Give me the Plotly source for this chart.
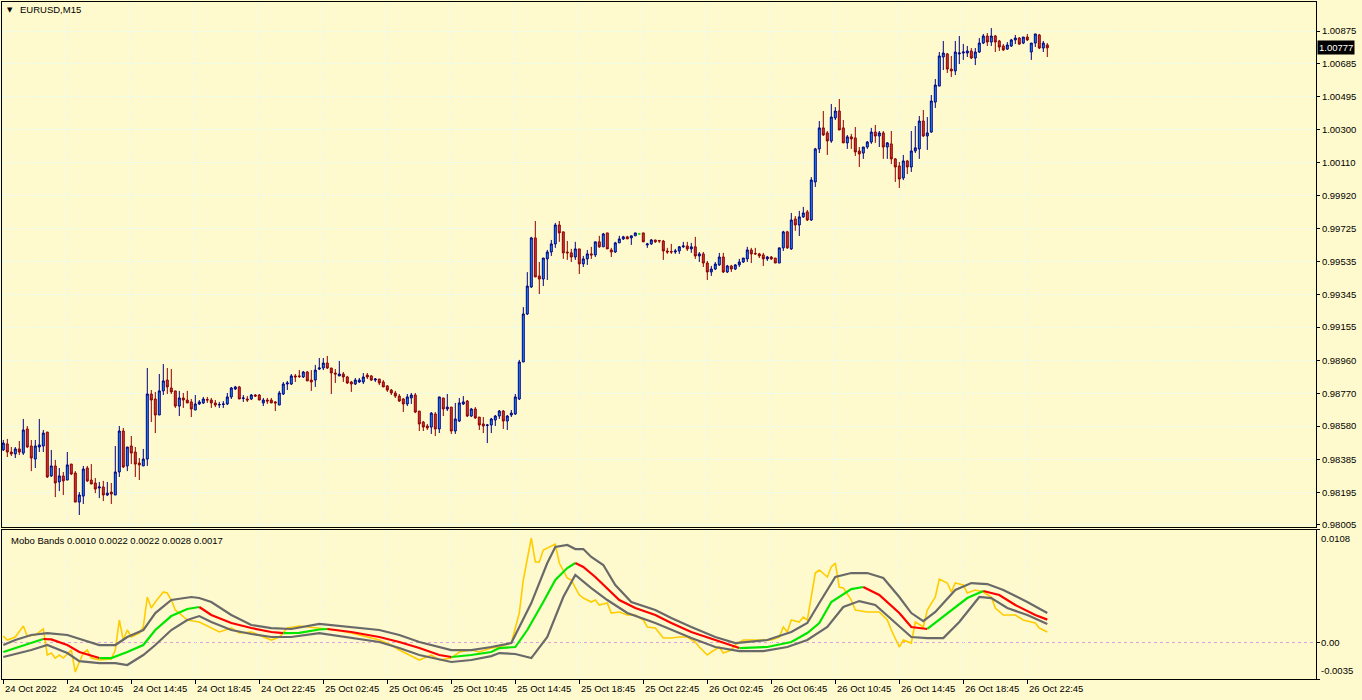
import plotly.graph_objects as go

# ---------------- data ----------------
bars = list(range(262))

opens = [
0.98441,0.98476,0.98429,0.98418,0.98447,0.98423,0.98563,0.98464,0.98388,0.98458,
0.98464,0.98545,0.98290,0.98348,0.98255,0.98290,0.98266,0.98359,0.98307,0.98138,
0.98173,0.98336,0.98266,0.98249,0.98220,0.98226,0.98179,0.98196,0.98179,0.98313,
0.98551,0.98348,0.98464,0.98429,0.98365,0.98348,0.98388,0.98766,0.98737,0.98644,
0.98784,0.98847,0.98801,0.98784,0.98696,0.98743,0.98731,0.98720,0.98673,0.98708,
0.98714,0.98734,0.98731,0.98714,0.98702,0.98705,0.98708,0.98749,0.98795,0.98807,
0.98740,0.98737,0.98737,0.98760,0.98760,0.98714,0.98731,0.98731,0.98720,0.98702,
0.98766,0.98824,0.98824,0.98871,0.98871,0.98865,0.98894,0.98847,0.98847,0.98911,
0.98917,0.98946,0.98917,0.98888,0.98871,0.98882,0.98865,0.98836,0.98824,0.98836,
0.98836,0.98876,0.98871,0.98847,0.98853,0.98836,0.98813,0.98789,0.98772,0.98754,
0.98737,0.98708,0.98743,0.98760,0.98667,0.98603,0.98580,0.98574,0.98650,0.98563,
0.98743,0.98679,0.98690,0.98551,0.98609,0.98708,0.98725,0.98638,0.98679,0.98632,
0.98592,0.98583,0.98586,0.98615,0.98638,0.98667,0.98609,0.98644,0.98650,0.98737,
0.98952,0.99231,0.99388,0.99673,0.99452,0.99434,0.99551,0.99591,0.99638,0.99748,
0.99708,0.99591,0.99586,0.99562,0.99609,0.99522,0.99551,0.99580,0.99574,0.99650,
0.99621,0.99702,0.99603,0.99591,0.99644,0.99667,0.99679,0.99673,0.99685,0.99696,
0.99702,0.99632,0.99638,0.99661,0.99658,0.99655,0.99597,0.99594,0.99591,0.99597,
0.99621,0.99626,0.99609,0.99621,0.99568,0.99580,0.99527,0.99475,0.99492,0.99516,
0.99562,0.99475,0.99510,0.99492,0.99516,0.99533,0.99551,0.99603,0.99583,0.99580,
0.99574,0.99551,0.99562,0.99556,0.99527,0.99615,0.99708,0.99609,0.99783,0.99748,
0.99795,0.99824,0.99777,0.99998,1.00190,1.00312,1.00283,1.00236,1.00370,1.00410,
1.00312,1.00225,1.00260,1.00254,1.00178,1.00166,1.00201,1.00230,1.00288,1.00265,
1.00283,1.00201,1.00219,1.00132,1.00091,1.00021,1.00120,1.00085,1.00178,1.00190,
1.00352,1.00265,1.00288,1.00462,1.00555,1.00724,1.00742,1.00654,1.00643,1.00742,
1.00747,1.00747,1.00759,1.00718,1.00753,1.00805,1.00846,1.00811,1.00846,1.00817,
1.00788,1.00770,1.00788,1.00823,1.00834,1.00805,1.00840,1.00753,1.00805,1.00852,
1.00776,1.00794]

highs = [
0.98499,0.98505,0.98458,0.98458,0.98493,0.98621,0.98580,0.98499,0.98499,0.98621,
0.98557,0.98545,0.98441,0.98383,0.98336,0.98313,0.98429,0.98359,0.98318,0.98196,
0.98348,0.98348,0.98359,0.98278,0.98255,0.98261,0.98255,0.98249,0.98464,0.98580,
0.98569,0.98458,0.98522,0.98458,0.98394,0.98447,0.98917,0.98789,0.98778,0.98882,
0.98940,0.98917,0.98911,0.98784,0.98784,0.98772,0.98784,0.98737,0.98760,0.98731,
0.98749,0.98749,0.98743,0.98731,0.98720,0.98725,0.98772,0.98807,0.98813,0.98813,
0.98760,0.98754,0.98766,0.98766,0.98766,0.98743,0.98743,0.98743,0.98725,0.98784,
0.98836,0.98842,0.98882,0.98882,0.98905,0.98900,0.98900,0.98905,0.98935,0.98975,
0.98975,0.98987,0.98917,0.98911,0.98958,0.98894,0.98871,0.98842,0.98859,0.98859,
0.98888,0.98888,0.98876,0.98859,0.98853,0.98847,0.98818,0.98795,0.98784,0.98766,
0.98743,0.98766,0.98772,0.98772,0.98667,0.98609,0.98592,0.98661,0.98661,0.98749,
0.98743,0.98766,0.98690,0.98714,0.98743,0.98754,0.98731,0.98685,0.98690,0.98632,
0.98632,0.98592,0.98627,0.98644,0.98673,0.98673,0.98644,0.98673,0.98766,0.98964,
0.99271,0.99474,0.99679,0.99771,0.99533,0.99556,0.99603,0.99661,0.99760,0.99771,
0.99708,0.99655,0.99609,0.99650,0.99609,0.99568,0.99603,0.99621,0.99650,0.99685,
0.99702,0.99702,0.99615,0.99650,0.99685,0.99685,0.99685,0.99685,0.99702,0.99702,
0.99702,0.99644,0.99667,0.99661,0.99661,0.99661,0.99615,0.99638,0.99609,0.99626,
0.99650,0.99650,0.99644,0.99679,0.99591,0.99591,0.99539,0.99510,0.99533,0.99586,
0.99586,0.99516,0.99516,0.99521,0.99551,0.99556,0.99621,0.99615,0.99615,0.99586,
0.99586,0.99568,0.99568,0.99556,0.99615,0.99714,0.99714,0.99818,0.99800,0.99830,
0.99853,0.99835,1.00026,1.00196,1.00352,1.00410,1.00294,1.00451,1.00433,1.00480,
1.00358,1.00271,1.00277,1.00317,1.00201,1.00201,1.00236,1.00312,1.00329,1.00294,
1.00294,1.00230,1.00294,1.00137,1.00114,1.00155,1.00126,1.00294,1.00323,1.00381,
1.00416,1.00375,1.00503,1.00596,1.00753,1.00817,1.00747,1.00730,1.00817,1.00846,
1.00800,1.00788,1.00776,1.00776,1.00834,1.00858,1.00863,1.00892,1.00852,1.00823,
1.00799,1.00811,1.00829,1.00852,1.00840,1.00840,1.00858,1.00805,1.00858,1.00858,
1.00817,1.00805]

lows = [
0.98435,0.98400,0.98406,0.98394,0.98412,0.98412,0.98453,0.98318,0.98336,0.98429,
0.98429,0.98278,0.98284,0.98167,0.98202,0.98179,0.98266,0.98295,0.98138,0.98063,
0.98127,0.98255,0.98243,0.98190,0.98161,0.98144,0.98173,0.98127,0.98179,0.98284,
0.98336,0.98318,0.98359,0.98284,0.98266,0.98348,0.98348,0.98603,0.98539,0.98644,
0.98760,0.98766,0.98766,0.98685,0.98638,0.98685,0.98714,0.98632,0.98673,0.98702,
0.98708,0.98714,0.98685,0.98690,0.98685,0.98685,0.98702,0.98737,0.98789,0.98737,
0.98720,0.98720,0.98731,0.98749,0.98731,0.98696,0.98708,0.98714,0.98667,0.98702,
0.98760,0.98789,0.98818,0.98836,0.98859,0.98859,0.98842,0.98784,0.98807,0.98905,
0.98905,0.98911,0.98766,0.98830,0.98871,0.98836,0.98824,0.98778,0.98818,0.98830,
0.98824,0.98853,0.98842,0.98836,0.98818,0.98807,0.98778,0.98760,0.98743,0.98720,
0.98661,0.98696,0.98708,0.98655,0.98551,0.98551,0.98557,0.98534,0.98522,0.98539,
0.98638,0.98667,0.98534,0.98534,0.98603,0.98702,0.98632,0.98632,0.98621,0.98557,
0.98539,0.98481,0.98539,0.98580,0.98621,0.98563,0.98557,0.98632,0.98644,0.98731,
0.98952,0.99225,0.99382,0.99446,0.99347,0.99393,0.99428,0.99568,0.99615,0.99650,
0.99551,0.99545,0.99533,0.99545,0.99463,0.99504,0.99516,0.99551,0.99562,0.99615,
0.99621,0.99609,0.99562,0.99586,0.99644,0.99661,0.99667,0.99632,0.99685,0.99690,
0.99650,0.99615,0.99632,0.99644,0.99644,0.99545,0.99580,0.99580,0.99580,0.99580,
0.99615,0.99597,0.99586,0.99551,0.99533,0.99504,0.99428,0.99452,0.99486,0.99510,
0.99469,0.99469,0.99475,0.99486,0.99504,0.99527,0.99533,0.99527,0.99574,0.99556,
0.99510,0.99539,0.99545,0.99527,0.99527,0.99597,0.99609,0.99603,0.99714,0.99684,
0.99789,0.99771,0.99771,0.99969,1.00166,1.00265,1.00155,1.00225,1.00358,1.00300,
1.00225,1.00190,1.00190,1.00149,1.00085,1.00132,1.00190,1.00219,1.00225,1.00201,
1.00132,1.00132,1.00102,0.99998,0.99963,1.00009,1.00044,1.00056,1.00166,1.00132,
1.00259,1.00184,1.00283,1.00428,1.00555,1.00648,1.00631,1.00608,1.00619,1.00683,
1.00707,1.00724,1.00712,1.00677,1.00747,1.00799,1.00788,1.00788,1.00753,1.00759,
1.00759,1.00765,1.00782,1.00799,1.00794,1.00799,1.00817,1.00707,1.00782,1.00770,
1.00753,1.00724]

closes = [
0.98481,0.98429,0.98418,0.98447,0.98429,0.98557,0.98458,0.98394,0.98464,0.98470,
0.98539,0.98284,0.98348,0.98249,0.98290,0.98261,0.98354,0.98301,0.98138,0.98179,
0.98330,0.98261,0.98243,0.98214,0.98226,0.98179,0.98190,0.98185,0.98313,0.98551,
0.98342,0.98458,0.98423,0.98359,0.98354,0.98388,0.98766,0.98731,0.98644,0.98784,
0.98842,0.98807,0.98778,0.98696,0.98743,0.98731,0.98714,0.98679,0.98708,0.98720,
0.98737,0.98731,0.98714,0.98702,0.98705,0.98708,0.98749,0.98801,0.98807,0.98737,
0.98743,0.98731,0.98760,0.98754,0.98731,0.98731,0.98725,0.98714,0.98714,0.98772,
0.98824,0.98830,0.98871,0.98865,0.98868,0.98894,0.98842,0.98836,0.98905,0.98917,
0.98946,0.98917,0.98888,0.98882,0.98882,0.98865,0.98830,0.98824,0.98847,0.98847,
0.98865,0.98865,0.98847,0.98853,0.98830,0.98807,0.98789,0.98772,0.98754,0.98725,
0.98708,0.98749,0.98760,0.98661,0.98592,0.98574,0.98569,0.98655,0.98563,0.98749,
0.98679,0.98690,0.98551,0.98621,0.98714,0.98720,0.98638,0.98679,0.98627,0.98586,
0.98580,0.98586,0.98621,0.98638,0.98667,0.98609,0.98638,0.98655,0.98749,0.98952,
0.99231,0.99393,0.99673,0.99446,0.99434,0.99556,0.99591,0.99638,0.99748,0.99702,
0.99586,0.99586,0.99562,0.99609,0.99522,0.99551,0.99580,0.99574,0.99650,0.99621,
0.99696,0.99609,0.99591,0.99644,0.99667,0.99679,0.99667,0.99685,0.99702,0.99696,
0.99650,0.99638,0.99661,0.99650,0.99655,0.99597,0.99591,0.99591,0.99597,0.99621,
0.99626,0.99609,0.99621,0.99568,0.99580,0.99527,0.99475,0.99492,0.99521,0.99562,
0.99475,0.99510,0.99492,0.99516,0.99533,0.99556,0.99603,0.99580,0.99580,0.99568,
0.99551,0.99562,0.99551,0.99527,0.99615,0.99708,0.99615,0.99777,0.99748,0.99795,
0.99818,0.99777,1.00009,1.00190,1.00312,1.00271,1.00236,1.00375,1.00410,1.00300,
1.00225,1.00260,1.00248,1.00172,1.00161,1.00201,1.00230,1.00288,1.00265,1.00283,
1.00201,1.00225,1.00132,1.00085,1.00015,1.00120,1.00085,1.00178,1.00196,1.00352,
1.00265,1.00283,1.00468,1.00561,1.00730,1.00747,1.00654,1.00643,1.00753,1.00747,
1.00753,1.00759,1.00718,1.00753,1.00805,1.00846,1.00811,1.00846,1.00811,1.00782,
1.00765,1.00794,1.00823,1.00834,1.00799,1.00840,1.00823,1.00805,1.00858,1.00776,
1.00805,1.00777]

last_price = 1.00777

# Mobo Bands indicator (sampled bars, values)
yellow_bars = [0,1,3,5,6,8,10,11,12,13,14,15,17,18,19,20,21,22,24,27,28,29,30,31,32,34,35,36,37,38,
               40,41,42,43,44,46,49,52,54,57,59,62,65,67,69,71,74,79,83,87,90,94,97,99,102,104,107,
               109,112,114,117,119,122,124,127,129,130,132,133,134,135,136,138,139,141,142,144,145,
               147,148,149,151,152,154,156,158,160,161,163,165,167,169,171,173,174,176,177,179,180,
               182,183,185,187,190,192,194,195,196,197,199,200,201,203,204,206,207,208,209,210,212,
               213,216,219,221,222,224,225,227,228,230,231,233,234,236,237,238,240,241,243,245,247,
               248,250,253,255,258,259,261]
yellow_vals = [0.00062,0.00024,0.00053,0.00158,0.00062,0.00072,0.00130,-0.00120,-0.00101,-0.00149,
               -0.00120,-0.00149,-0.00072,-0.00283,-0.00187,-0.00101,-0.00072,-0.00149,-0.00168,-0.00158,
               -0.00072,0.00216,0.00024,0.00120,0.00053,0.00091,0.00149,0.00437,0.00331,0.00389,
               0.00485,0.00475,0.00408,0.00312,0.00283,0.00216,0.00197,0.00139,0.00101,0.00139,
               0.00091,0.00101,0.00053,0.00024,0.00053,0.00139,0.00158,0.00139,0.00120,0.00091,
               0.00062,0.00024,-0.00024,-0.00072,-0.00130,-0.00168,-0.00120,-0.00168,-0.00149,-0.00091,
               -0.00072,-0.00091,-0.00053,-0.00043,-0.00005,0.00283,0.00600,0.01003,0.00773,0.00773,
               0.00888,0.00907,0.00945,0.00763,0.00619,0.00600,0.00456,0.00427,0.00389,0.00408,
               0.00360,0.00379,0.00283,0.00293,0.00264,0.00264,0.00216,0.00149,0.00139,0.00043,
               0.00043,0.00053,0.00053,0.00005,-0.00043,-0.00120,-0.00091,-0.00043,-0.00101,-0.00072,
               -0.00024,0.00024,0.00024,0.00024,0.00024,0.00053,0.00149,0.00101,0.00216,0.00197,
               0.00245,0.00216,0.00667,0.00696,0.00629,0.00725,0.00763,0.00533,0.00523,0.00408,
               0.00312,0.00293,0.00293,0.00216,0.00120,-0.00043,0.00024,-0.00005,0.00197,0.00149,
               0.00312,0.00437,0.00609,0.00571,0.00485,0.00571,0.00552,0.00475,0.00504,0.00485,
               0.00437,0.00331,0.00264,0.00264,0.00216,0.00187,0.00139,0.00101]

mid_bars = [0,4,7,10,12,16,19,24,27,31,35,38,42,46,49,52,57,62,67,70,74,79,81,83,87,94,99,104,109,
            112,117,122,124,128,131,135,138,141,143,145,148,151,154,158,163,167,172,178,184,191,197,
            201,204,207,212,215,219,224,227,231,236,241,245,249,253,258,261]
mid_vals = [-0.00091,-0.00043,-0.00005,0.00034,0.00030,-0.00024,-0.00091,-0.00149,-0.00149,-0.00091,
            -0.00024,0.00120,0.00254,0.00322,0.00341,0.00264,0.00187,0.00139,0.00101,0.00091,
            0.00092,0.00125,0.00130,0.00120,0.00101,0.00053,0.00005,-0.00053,-0.00120,-0.00139,
            -0.00120,-0.00091,-0.00053,-0.00043,0.00120,0.00389,0.00600,0.00715,0.00763,0.00725,
            0.00629,0.00523,0.00408,0.00331,0.00264,0.00187,0.00101,0.00024,-0.00053,-0.00043,
            0.00005,0.00091,0.00187,0.00389,0.00513,0.00533,0.00456,0.00283,0.00149,0.00130,
            0.00283,0.00427,0.00494,0.00456,0.00360,0.00264,0.00220]

upper_bars = [0,3,7,11,16,20,24,28,31,35,38,42,47,49,52,57,62,67,72,79,87,94,99,104,112,117,122,127,
              132,136,138,141,143,145,147,150,153,157,163,167,172,178,183,191,197,201,204,208,212,
              216,220,224,227,230,233,238,242,246,250,256,261]
upper_vals = [-0.00024,0.00024,0.00072,0.00091,0.00072,0.00024,-0.00024,-0.00024,0.00053,0.00120,
              0.00283,0.00408,0.00437,0.00427,0.00389,0.00264,0.00168,0.00139,0.00130,0.00178,
              0.00149,0.00120,0.00072,0.00005,-0.00072,-0.00072,-0.00043,-0.00005,0.00379,0.00763,
              0.00917,0.00936,0.00897,0.00897,0.00821,0.00744,0.00552,0.00389,0.00312,0.00235,
              0.00149,0.00053,-0.00005,0.00024,0.00101,0.00187,0.00379,0.00629,0.00667,0.00667,
              0.00619,0.00437,0.00283,0.00206,0.00293,0.00504,0.00571,0.00561,0.00504,0.00389,
              0.00283]

lower_bars = [0,4,7,11,16,19,24,28,31,35,38,42,46,49,52,57,62,67,72,79,87,94,99,104,112,117,122,
              124,128,132,136,140,143,147,151,156,163,167,172,178,184,190,196,201,206,210,214,218,
              223,227,231,235,239,244,247,251,256,261]
lower_vals = [-0.00139,-0.00101,-0.00072,-0.00024,-0.00101,-0.00178,-0.00197,-0.00197,-0.00216,-0.00120,
              -0.00024,0.00120,0.00216,0.00254,0.00197,0.00120,0.00082,0.00053,0.00053,0.00091,
              0.00043,0.00005,-0.00053,-0.00120,-0.00187,-0.00168,-0.00130,-0.00101,-0.00110,-0.00149,
              0.00053,0.00437,0.00648,0.00523,0.00408,0.00283,0.00187,0.00120,0.00043,-0.00043,
              -0.00082,-0.00082,-0.00043,0.00024,0.00149,0.00341,0.00398,0.00360,0.00187,0.00053,
              0.00043,0.00043,0.00197,0.00437,0.00427,0.00331,0.00264,0.00178]

indicator_title = "Mobo Bands 0.0010 0.0022 0.0022 0.0028 0.0017"

tick_bars = [0,16,32,48,64,80,96,112,128,144,160,176,192,208,224,240,256]
tick_labels = ["24 Oct 2022","24 Oct 10:45","24 Oct 14:45","24 Oct 18:45","24 Oct 22:45",
               "25 Oct 02:45","25 Oct 06:45","25 Oct 10:45","25 Oct 14:45","25 Oct 18:45",
               "25 Oct 22:45","26 Oct 02:45","26 Oct 06:45","26 Oct 10:45","26 Oct 14:45",
               "26 Oct 18:45","26 Oct 22:45"]

price_labels = ["1.00875","1.00685","1.00495","1.00300","1.00110","0.99920","0.99725","0.99535",
                "0.99345","0.99155","0.98960","0.98770","0.98580","0.98385","0.98195","0.98005"]
price_vals = [float(s) for s in price_labels]

osc_labels = ["0.0108", "0.00", "-0.0035"]
osc_vals = [0.0108, 0.0, -0.0035]

# ---------------- style ----------------
BG = "#FFFACD"
GRID = "#E6FBF4"
FONT = dict(family="Liberation Sans, Arial, sans-serif", size=9.5, color="black")
X_RANGE = [-0.325, 328.175]
Y_RANGE = [0.979932, 1.010435]
Y2_RANGE = [-0.0035, 0.0108]

fig = go.Figure()

# candles (doji drawn separately in green like the terminal)
reg = [i for i in bars if opens[i] != closes[i]]
doj = [i for i in bars if opens[i] == closes[i]]
fig.add_trace(go.Candlestick(
    x=[bars[i] for i in reg], open=[opens[i] for i in reg], high=[highs[i] for i in reg],
    low=[lows[i] for i in reg], close=[closes[i] for i in reg],
    increasing=dict(line=dict(color="#000080", width=1), fillcolor="#1E90FF"),
    decreasing=dict(line=dict(color="#8B0000", width=1), fillcolor="#D23A3A"),
    whiskerwidth=0, hoverinfo="skip", showlegend=False, xaxis="x", yaxis="y"))
if doj:
    fig.add_trace(go.Candlestick(
        x=[bars[i] for i in doj], open=[opens[i] for i in doj], high=[highs[i] for i in doj],
        low=[lows[i] for i in doj], close=[closes[i] for i in doj],
        increasing=dict(line=dict(color="#00E000", width=1), fillcolor="#00E000"),
        decreasing=dict(line=dict(color="#00E000", width=1), fillcolor="#00E000"),
        whiskerwidth=0, hoverinfo="skip", showlegend=False, xaxis="x", yaxis="y"))

# indicator
fig.add_trace(go.Scatter(x=yellow_bars, y=yellow_vals, mode="lines",
                         line=dict(color="#FFCC00", width=1.6), hoverinfo="skip",
                         showlegend=False, xaxis="x2", yaxis="y2"))
for bx, by in ((upper_bars, upper_vals), (lower_bars, lower_vals)):
    fig.add_trace(go.Scatter(x=bx, y=by, mode="lines", line=dict(color="#696969", width=2.2),
                             hoverinfo="skip", showlegend=False, xaxis="x2", yaxis="y2"))

def colored_runs(xs, ys, up, down):
    runs = []
    for i in range(len(xs) - 1):
        c = up if ys[i + 1] >= ys[i] else down
        if runs and runs[-1][0] == c:
            runs[-1][1].append(xs[i + 1]); runs[-1][2].append(ys[i + 1])
        else:
            runs.append((c, [xs[i], xs[i + 1]], [ys[i], ys[i + 1]]))
    return runs

for c, rx, ry in colored_runs(mid_bars, mid_vals, "#00E600", "#FF0000"):
    fig.add_trace(go.Scatter(x=rx, y=ry, mode="lines", line=dict(color=c, width=2.2),
                             hoverinfo="skip", showlegend=False, xaxis="x2", yaxis="y2"))

# zero level
fig.add_shape(type="line", xref="x2 domain", x0=0, x1=1, yref="y2", y0=0, y1=0,
              line=dict(color="#DDA0DD", width=1, dash="3px,3px"), layer="below")

axis_common = dict(showline=True, mirror=True, linecolor="black", linewidth=1, zeroline=False)

fig.update_layout(
    width=1362, height=700,
    margin=dict(l=2, r=46, t=2, b=21),
    paper_bgcolor=BG, plot_bgcolor=BG, showlegend=False,
    font=FONT,
    xaxis=dict(domain=[0, 1], range=X_RANGE, anchor="y", rangeslider=dict(visible=False),
               tickvals=tick_bars, showticklabels=False, ticks="",
               showgrid=True, gridcolor=GRID, griddash="3px,2px", gridwidth=1, **axis_common),
    yaxis=dict(domain=[0.2245, 1], range=Y_RANGE, anchor="x", side="right",
               tickvals=price_vals, ticktext=price_labels, ticks="outside", ticklen=3,
               tickcolor="black", tickfont=FONT,
               showgrid=True, gridcolor=GRID, griddash="3px,2px", gridwidth=1, **axis_common),
    xaxis2=dict(domain=[0, 1], range=X_RANGE, anchor="y2", matches="x",
                tickvals=tick_bars, showticklabels=False, ticks="outside", ticklen=4,
                tickcolor="black",
                showgrid=True, gridcolor=GRID, griddash="3px,2px", gridwidth=1, **axis_common),
    yaxis2=dict(domain=[0, 0.2201], range=Y2_RANGE, anchor="x2", side="right",
                tickvals=osc_vals, showticklabels=False, ticks="outside", ticklen=3,
                tickcolor="black", showgrid=False, **axis_common),
)

ann = []
# time labels (left-aligned after each tick)
for b, t in zip(tick_bars, tick_labels):
    ann.append(dict(x=b, xref="x2", xanchor="left", xshift=0, y=-0.0135, yref="paper",
                    yanchor="middle", text=t, showarrow=False, font=FONT))
# indicator scale labels
ann.append(dict(x=1, xref="paper", xanchor="left", xshift=3, y=osc_vals[0], yref="y2",
                yanchor="top", yshift=-1, text=osc_labels[0], showarrow=False, font=FONT))
ann.append(dict(x=1, xref="paper", xanchor="left", xshift=3, y=osc_vals[1], yref="y2",
                yanchor="middle", text=osc_labels[1], showarrow=False, font=FONT))
ann.append(dict(x=1, xref="paper", xanchor="left", xshift=3, y=osc_vals[2], yref="y2",
                yanchor="bottom", yshift=1, text=osc_labels[2], showarrow=False, font=FONT))
# current price box
ann.append(dict(x=1, xref="paper", xanchor="left", xshift=1, y=last_price, yref="y",
                yanchor="middle", text=f"{last_price:.5f}", showarrow=False,
                bgcolor="black", borderpad=1, font=dict(family=FONT["family"], size=9.5, color="white")))
# titles
ann.append(dict(x=0.0025, xref="paper", xanchor="left", y=0.9885, yref="paper", yanchor="middle",
                text="▼", showarrow=False, font=dict(family="DejaVu Sans", size=7, color="black")))
ann.append(dict(x=0.0118, xref="paper", xanchor="left", y=0.9885, yref="paper", yanchor="middle",
                text="EURUSD,M15", showarrow=False, font=FONT))
ann.append(dict(x=0.0055, xref="paper", xanchor="left", y=0.2053, yref="paper", yanchor="middle",
                text=indicator_title, showarrow=False, font=FONT))
fig.update_layout(annotations=ann)

fig.write_html("out.html", config={"displayModeBar": False},
               post_script="document.body.style.margin='0';document.body.style.background='#FFFACD';")
